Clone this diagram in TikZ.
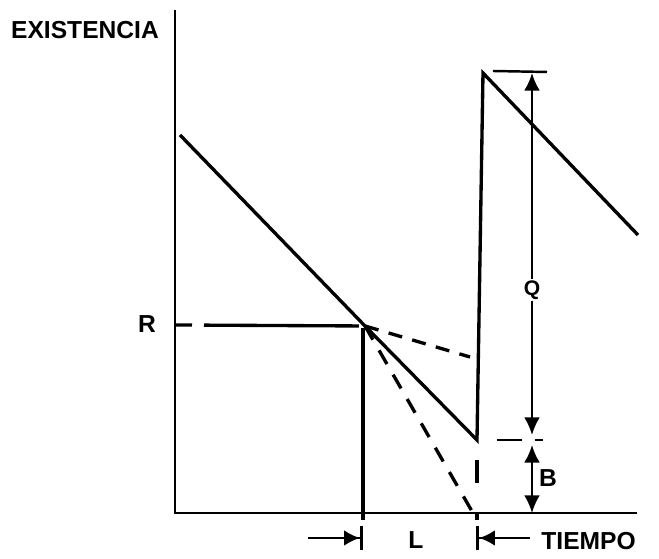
\documentclass[tikz,border=0pt]{standalone}
\usepackage{fontspec}
\setsansfont{Liberation Sans}
\usetikzlibrary{arrows.meta}

\begin{document}
\begin{tikzpicture}[line width=1.9pt,
    lbl/.style={font=\sffamily\bfseries\fontsize{14}{16}\selectfont, inner sep=1pt},
    dim/.style={line width=1.3pt, {Latex[length=10pt,width=9pt]}-{Latex[length=10pt,width=9pt]}},
    lead/.style={line width=1.3pt, -{Latex[length=9pt,width=9pt]Bar[width=14pt,line width=1.8pt]}}]
    \useasboundingbox (-3.5,-0.92) rectangle (9.68,10.26);

    % Draw the axes
    \draw[line width=1.6pt] (0,10.06) -- (0,0) -- (9.24,0);
    \node[lbl] (exist) at (-1.8,9.66) {EXISTENCIA};
    \node[lbl, anchor=west] (tiempo) at (7.26,-0.56) {TIEMPO};

    % Key points of the stock curve
    \coordinate (s0) at (0.1,7.56);
    \coordinate (rp) at (3.8,3.74);
    \coordinate (lo) at (6.04,1.46);
    \coordinate (hi) at (6.16,8.8);
    \coordinate (s1) at (9.26,5.56);

    % Sawtooth of the stock level
    \draw (s0) -- (rp) -- (lo) -- (hi) -- (s1);

    % Reorder level R
    \node[lbl] (r) at (-0.56,3.78) {R};
    \draw[dash pattern=on 0.34cm off 0.24cm on 3.1cm off 0.2cm] (0,3.76) -- (rp);
    \draw (3.76,3.7) -- (3.76,-0.15);

    % Other demand rates after ordering
    \draw[dash pattern=on 8pt off 6pt] (rp) -- (5.9,3.12);
    \draw[dash pattern=on 9pt off 7pt] (rp) -- (5.96,0);
    \draw (6.04,1.06) -- (6.04,0.6);
    \draw (6.04,0) -- (6.04,-0.15);

    % Lead time L
    \draw[lead] (2.66,-0.5) -- (3.76,-0.5);
    \draw[lead] (7.1,-0.5) -- (6.02,-0.5);
    \node[lbl] (l) at (4.82,-0.54) {L};

    % Order quantity Q and safety stock B
    \draw[line width=1.4pt] (6.36,8.84) -- (7.44,8.82);
    \draw[line width=1.4pt, dash pattern=on 0.5cm off 0.26cm] (6.44,1.46) -- (7.36,1.46);
    \draw[dim] (7.14,1.56) -- (7.14,8.8);
    \node[lbl, fill=white, font=\sffamily\bfseries\fontsize{12}{14}\selectfont] (q) at (7.14,4.46) {Q};
    \draw[dim] (7.14,1.36) -- (7.14,0);
    \node[lbl] (b) at (7.46,0.7) {B};
\end{tikzpicture}
\end{document}
